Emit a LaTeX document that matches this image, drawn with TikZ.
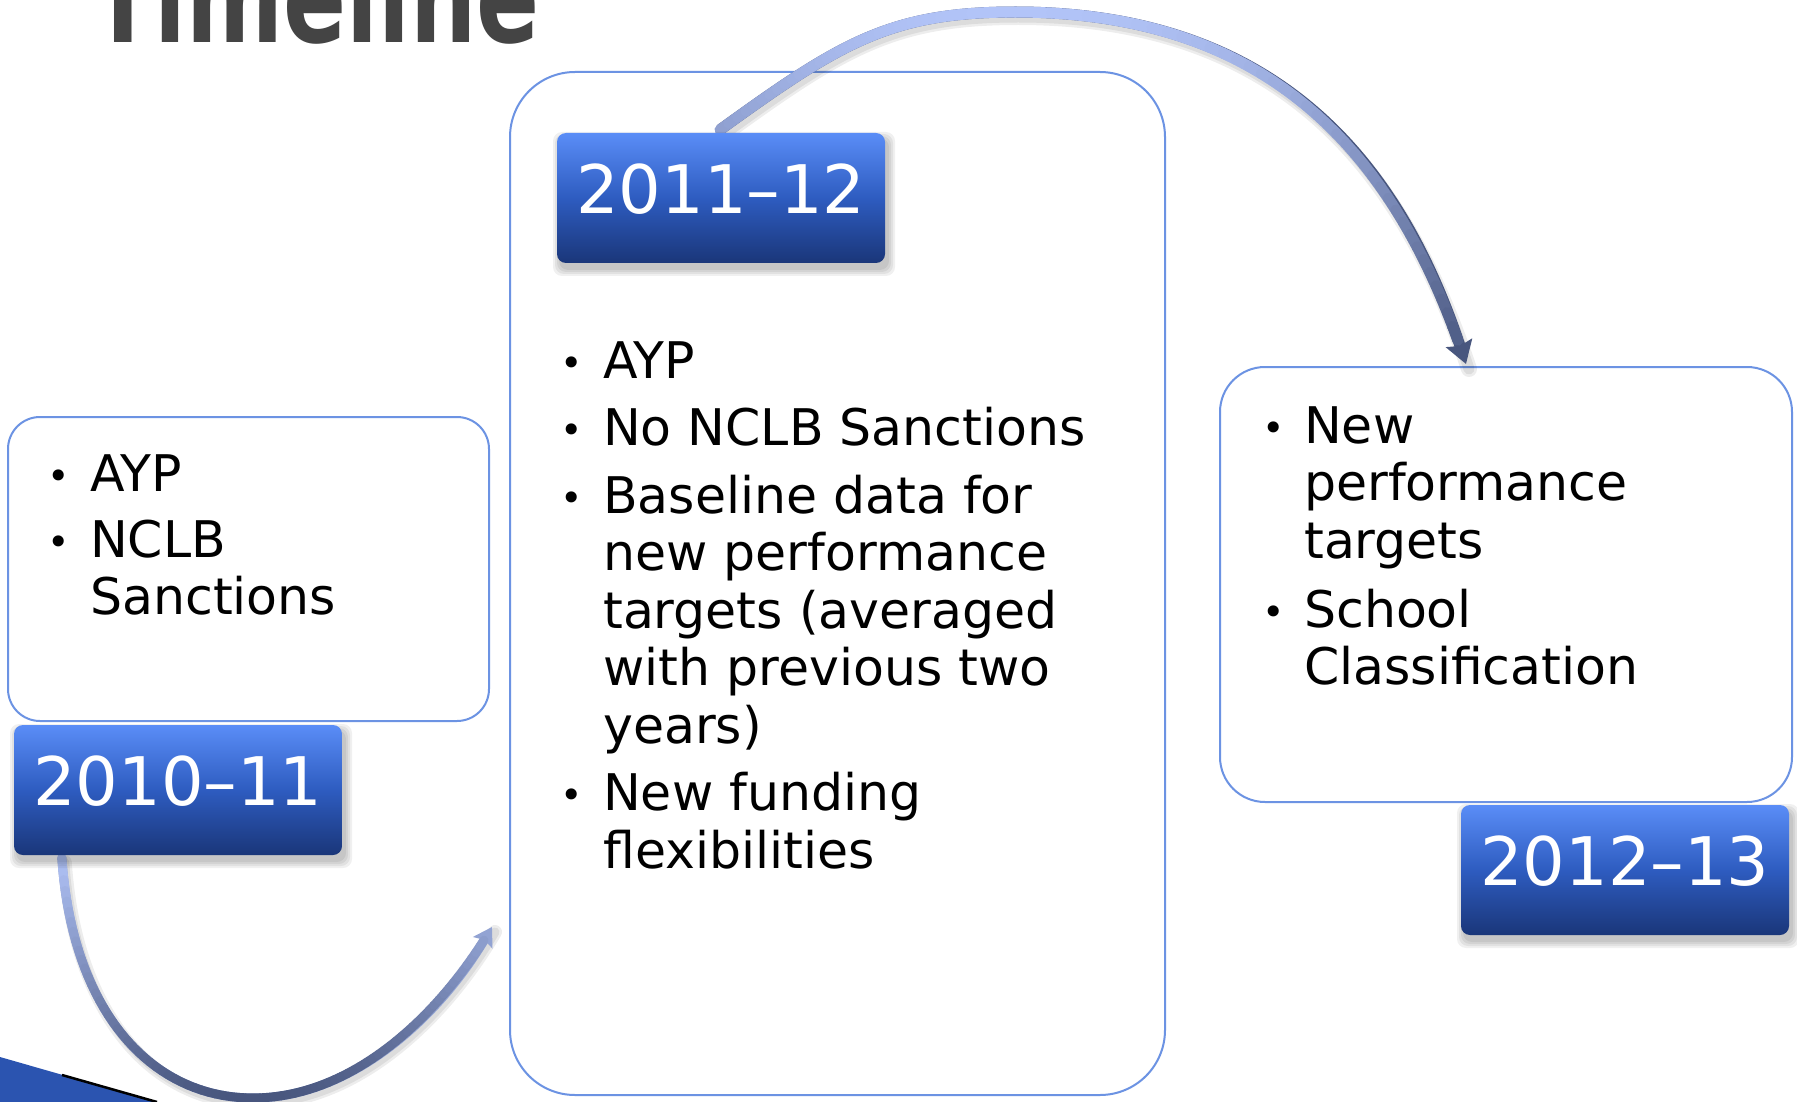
\documentclass[tikz,border=0pt]{standalone}
\usepackage{fontspec}
\setmainfont{DejaVu Sans}
\newfontfamily\titlefont[FakeStretch=0.727]{DejaVu Sans}
\usetikzlibrary{arrows.meta,calc}

\definecolor{arrlight}{RGB}{178,196,248}
\definecolor{arrdark}{RGB}{72,86,126}
\definecolor{bordblue}{RGB}{108,147,227}
\definecolor{yrtop}{RGB}{90,141,247}
\definecolor{yrmid}{RGB}{46,92,192}
\definecolor{yrbot}{RGB}{26,54,121}
\definecolor{titlegray}{RGB}{68,68,68}
\definecolor{wedgeblue}{RGB}{43,84,176}

\pgfdeclarelayer{front}
\pgfsetlayers{main,front}

% gradient overlay along a cubic Bezier: #1..#4 coordinate names, #5 tmax, #6 ytop, #7 ybot, #8 width
\newcommand\gradcurve[8]{%
  \foreach \i in {1,...,40}{%
    \pgfmathsetmacro\gTa{(\i-1)/40*#5}%
    \pgfmathsetmacro\gTb{\i/40*#5}%
    \pgfpointcurveattime{\gTa}{\pgfpointanchor{#1}{center}}{\pgfpointanchor{#2}{center}}{\pgfpointanchor{#3}{center}}{\pgfpointanchor{#4}{center}}%
    \pgfgetlastxy{\gXa}{\gYa}%
    \pgfpointcurveattime{\gTb}{\pgfpointanchor{#1}{center}}{\pgfpointanchor{#2}{center}}{\pgfpointanchor{#3}{center}}{\pgfpointanchor{#4}{center}}%
    \pgfgetlastxy{\gXb}{\gYb}%
    \pgfmathsetmacro\gPc{max(0,min(100,(0-((\gYa)+(\gYb))/2-#6)/(#7-#6)*100))}%
    \draw[line width=#8pt, line cap=round, color=arrdark!\gPc!arrlight] (\gXa,\gYa) -- (\gXb,\gYb);%
  }%
}

\newcommand\boxshadow[1]{%
  \foreach \e in {1,3,5,7}{%
    \fill[black, opacity=0.06, rounded corners=9pt]
      ($(#1)+(-164+3-\e,-65+6-\e)$) rectangle ($(#1)+(164+3+\e,65+6+\e)$);
  }%
}

\newcommand\bl[2][9.5pt]{\vtop{\hsize=640pt\parindent=0pt\parskip=#1\relax
  \baselineskip=57.5pt\lineskiplimit=-100pt\rightskip=0pt plus 1fil #2}}
\newcommand\bi{\par\noindent\llap{\makebox[62pt][c]{\raisebox{2pt}{\fontsize{38}{38}\selectfont •}}}}

\tikzset{
  card/.style={draw=bordblue, line width=2pt, fill=white, inner sep=0pt},
  yearbox/.style={rounded corners=9pt, top color=yrtop, bottom color=yrbot, middle color=yrmid,
    minimum width=328pt, minimum height=130pt, inner sep=0pt, text=white,
    font=\fontsize{67}{67}\selectfont, text height=49pt, text depth=18pt},
  body/.style={font=\fontsize{50.5}{57.5}\selectfont, anchor=base west, inner sep=0pt},
  titletext/.style={anchor=base west, inner sep=0pt, text=titlegray,
    font=\titlefont\bfseries\fontsize{128}{128}\selectfont},
  arrshadow/.style={line width=#1, black, opacity=0.07, line cap=round},
}

\begin{document}
\begin{tikzpicture}[x=1pt,y=-1pt]
\useasboundingbox (0,0) rectangle (1797,1102);
\clip (0,0) rectangle (1797,1102);
\fill[white] (0,0) rectangle (1797,1102);

% title (cut by the top edge)
\node[titletext] (title) at (91,43) {Timeline};

% decorative wedge bottom-left
\fill[wedgeblue] (0,1057) -- (157,1102) -- (0,1102) -- cycle;
\draw[black, line width=2.5pt] (62,1075) -- (157,1102);

% content cards
\node[card, rounded corners=32pt, minimum width=481pt, minimum height=304pt] (c1011) at (248.5,569) {};
\node[card, rounded corners=65pt, minimum width=655pt, minimum height=1023pt] (c1112) at (837.5,583.5) {};
\node[card, rounded corners=45pt, minimum width=572pt, minimum height=435pt] (c1213) at (1506,584.5) {};

% card texts
\node[body] (t1011) at (90,491) {\bl[8.5pt]{\bi AYP\bi NCLB\\Sanctions}};
\node[body] (t1112) at (603,378) {\bl[10pt]{\bi AYP\bi No NCLB Sanctions\bi Baseline data for\\new performance\\targets (averaged\\with previous two\\years)\bi New funding\\flexibilities}};
\node[body] (t1213) at (1304,443) {\bl[11.5pt]{\bi New\\performance\\targets\bi School\\Classification}};

% year boxes (front layer)
\coordinate (y1011c) at (178,790);
\coordinate (y1112c) at (721,198);
\coordinate (y1213c) at (1625,870);
\begin{pgfonlayer}{front}
\boxshadow{y1011c}
\boxshadow{y1112c}
\boxshadow{y1213c}
\node[yearbox] (y1011) at (y1011c) {2010–11};
\node[yearbox] (y1112) at (y1112c) {2011–12};
\node[yearbox] (y1213) at (y1213c) {2012–13};
\end{pgfonlayer}

% arrow 1: 2010-11 -> 2011-12
\coordinate (a1p0) at ($(y1011.south west)+(48,2)$);
\coordinate (a1c1) at (72,1010);
\coordinate (a1c2) at (150,1098);
\coordinate (a1m) at (253,1098);
\coordinate (a1c3) at (353,1098);
\coordinate (a1c4) at (440,1015);
\coordinate (a1p3) at ($(c1112.west)+(-17,343.5)$);
\begin{scope}[transform canvas={shift={(3pt,-5pt)}}]
\draw[arrshadow=14pt] (a1p0) .. controls (a1c1) and (a1c2) .. (a1m) .. controls (a1c3) and (a1c4) .. (a1p3);
\draw[arrshadow=9pt] (a1p0) .. controls (a1c1) and (a1c2) .. (a1m) .. controls (a1c3) and (a1c4) .. (a1p3);
\end{scope}
\draw[line width=9pt, color=arrdark!30!arrlight, -{Stealth[length=18pt,width=22pt,inset=3pt]}]
  (a1p0) .. controls (a1c1) and (a1c2) .. (a1m) .. controls (a1c3) and (a1c4) .. (a1p3);
\gradcurve{a1p0}{a1c1}{a1c2}{a1m}{1}{857}{1098}{9}
\gradcurve{a1m}{a1c3}{a1c4}{a1p3}{0.95}{857}{1098}{9}

% arrow 2: 2011-12 -> 2012-13
\coordinate (a2p0) at ($(y1112.north)+(-1,-3)$);
\coordinate (a2c1) at (840,43);
\coordinate (a2c2) at (890,12);
\coordinate (a2m) at (1015,12);
\coordinate (a2c3) at (1280,12);
\coordinate (a2c4) at (1400,165);
\coordinate (a2p3) at ($(c1213.north)+(-40,-2)$);
\begin{scope}[transform canvas={shift={(3pt,-5pt)}}]
\draw[arrshadow=16pt] (a2p0) .. controls (a2c1) and (a2c2) .. (a2m) .. controls (a2c3) and (a2c4) .. (a2p3);
\draw[arrshadow=11pt] (a2p0) .. controls (a2c1) and (a2c2) .. (a2m) .. controls (a2c3) and (a2c4) .. (a2p3);
\end{scope}
\draw[line width=11pt, color=arrdark, -{Stealth[length=22pt,width=27pt,inset=3pt]}]
  (a2p0) .. controls (a2c1) and (a2c2) .. (a2m) .. controls (a2c3) and (a2c4) .. (a2p3);
\gradcurve{a2p0}{a2c1}{a2c2}{a2m}{1}{12}{365}{11}
\gradcurve{a2m}{a2c3}{a2c4}{a2p3}{0.96}{12}{365}{11}
\end{tikzpicture}
\end{document}
